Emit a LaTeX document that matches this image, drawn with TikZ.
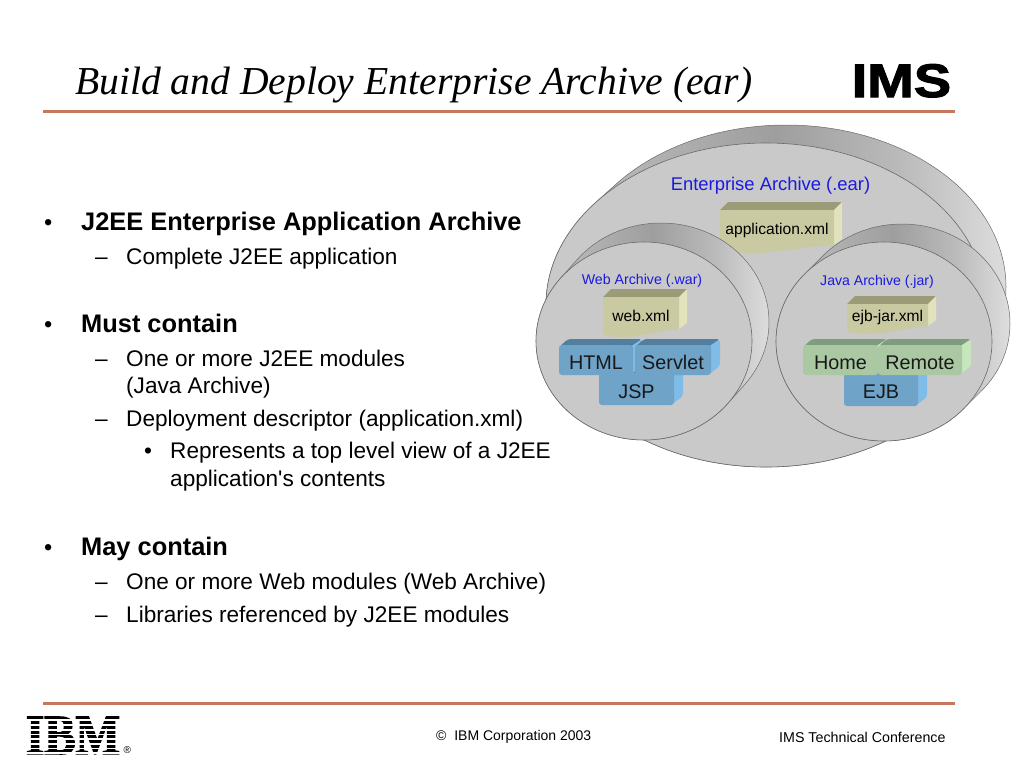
\documentclass[tikz,border=0pt]{standalone}
\usepackage{fontspec}
\setmainfont{Liberation Sans}
\newfontfamily\quotefont{Liberation Sans}
\newfontfamily\titlefont{Liberation Serif}
\newfontfamily\imsfont[UprightFont=* Bold,FakeBold=2.4,FakeStretch=1.19]{Liberation Sans}
\newfontfamily\ibmfont[UprightFont=* Bold,FakeBold=3]{Liberation Serif}
\definecolor{rulecol}{HTML}{C8785A}
\definecolor{labelblue}{HTML}{1A1AE0}
\definecolor{shellface}{HTML}{C9C9C9}
\definecolor{shelledge}{HTML}{6A6A6A}
\definecolor{docface}{HTML}{C9C9A2}
\definecolor{doctop}{HTML}{9B9B78}
\definecolor{docside}{HTML}{E2E2BC}
\definecolor{blueface}{HTML}{6FA3C8}
\definecolor{bluetop}{HTML}{527F9E}
\definecolor{blueside}{HTML}{80BCE8}
\definecolor{greenface}{HTML}{AAC8A2}
\definecolor{greentop}{HTML}{7F9C7C}
\definecolor{greenside}{HTML}{C8E6BE}
\pgfdeclarehorizontalshading{shellshade}{100bp}{
  color(0bp)=(black!22); color(25bp)=(black!22); color(50bp)=(black!38);
  color(62bp)=(black!27); color(75bp)=(black!10); color(100bp)=(black!10)}
\tikzset{
  rulebar/.style={draw=rulecol,line width=3pt},
  shellback/.style={draw=shelledge,line width=0.5pt,shading=shellshade},
  shellfront/.style={draw=shelledge,line width=0.6pt,fill=shellface},
  shelllabel/.style={text=labelblue,inner sep=0pt},
  filelabel/.style={font=\fontsize{15.6}{17}\selectfont,inner sep=0pt},
  blocklabel/.style={font=\fontsize{19.8}{22}\selectfont,text=black!90,inner sep=0pt},
  slidetext/.style={anchor=base west,inner sep=0pt},
}
% cx cy rx ry dx dy
\newcommand{\archive}[6]{
  \pgfmathsetmacro{\tang}{atan(-(#5/#6)*(#4/#3))}
  \path[shellback] ({#1+#3*cos(\tang)},{#2+#4*sin(\tang)})
    -- ++(#5,#6) arc[start angle=\tang,end angle=\tang-180,x radius=#3,y radius=#4]
    -- ++(-#5,-#6) arc[start angle=\tang-180,end angle=\tang-360,x radius=#3,y radius=#4] -- cycle;
  \path[shellfront] (#1,#2) ellipse[x radius=#3,y radius=#4];
}
% name label x0 x1 top bottom depth, bottom is the lowest point of the wave
\newcommand{\docbox}[7]{
  \fill[doctop] (#3,#5+#7) -- (#3+#7,#5) -- (#4,#5) -- (#4-#7,#5+#7) -- cycle;
  \fill[docside] (#4-#7,#5+#7) -- (#4,#5) -- (#4,#6-14) -- (#4-#7,#6-8) -- cycle;
  \fill[docface] (#3,#5+#7) -- (#4-#7,#5+#7) -- (#4-#7,#6-8)
    .. controls ({#3+0.65*(#4-#7-#3)},#6-5) and ({#3+0.45*(#4-#7-#3)},#6+1) .. ({#3+0.25*(#4-#7-#3)},#6)
    .. controls ({#3+0.15*(#4-#7-#3)},#6) and (#3+3,#6-1) .. (#3,#6-3) -- cycle;
  \node[filelabel] (#1) at ({(#3+#4-#7)/2},{(#5+#7+#6-3)/2}) {#2};
}
\begin{document}
\begin{tikzpicture}[x=1pt,y=-1pt]
\useasboundingbox (0,0) rectangle (1024,768);
\fill[white] (0,0) rectangle (1024,768);
% header and footer
\node[slidetext,font=\fontsize{39.6}{42}\selectfont\titlefont\itshape] (title) at (75,94) {Build and Deploy Enterprise Archive (ear)};
\node[slidetext,font=\fontsize{47}{49}\selectfont\imsfont] (ims) at (851.5,97) {IMS};
\draw[rulebar] (43,111) -- (955,111);
\draw[rulebar] (43,703) -- (955,703);
\node[inner sep=0pt,font=\fontsize{56}{58}\selectfont\ibmfont,xscale=0.84] (ibm) at (73,735.5) {IBM};
\foreach \k in {0,...,8} {
  \fill[white] (20,{714.7+\k*4.72}) rectangle (126,{716.4+\k*4.72});
}
\node[slidetext,font=\fontsize{10}{11}\selectfont] (regmark) at (123.5,753.5) {\textregistered};
\node[slidetext,font=\fontsize{14}{16}\selectfont] (copy) at (436,740) {\textcopyright\ \ IBM Corporation 2003};
\node[slidetext,font=\fontsize{14.25}{16}\selectfont] (conf) at (779,742) {IMS Technical Conference};
% bullets
\foreach \i/\x/\y/\txt/\fnt in {1/81/230/J2EE Enterprise Application Archive/\bfseries,4/81/332/Must contain/\bfseries,11/81/555/May contain/\bfseries} {
  \node[slidetext,font=\fontsize{25.4}{28}\selectfont\fnt] (line\i) at (\x,\y) {\txt};
  \node[slidetext,font=\fontsize{23.5}{26}\selectfont] (mark\i) at (44,\y) {•};
}
\foreach \i/\y/\txt in {2/264/Complete J2EE application,5/366/One or more J2EE modules,7/426/Deployment descriptor (application.xml),12/589/One or more Web modules (Web Archive),13/622/Libraries referenced by J2EE modules} {
  \node[slidetext,font=\fontsize{22.6}{25}\selectfont] (line\i) at (126,\y) {\txt};
  \node[slidetext,font=\fontsize{22.6}{25}\selectfont] (mark\i) at (95,\y) {–};
}
\node[slidetext,font=\fontsize{22.6}{25}\selectfont] (line6) at (126,393) {(Java Archive)};
\node[slidetext,font=\fontsize{22.6}{25}\selectfont] (mark8) at (144,458) {•};
\node[slidetext,font=\fontsize{22.6}{25}\selectfont] (line8) at (170,458) {Represents a top level view of a J2EE};
\node[slidetext,font=\fontsize{22.6}{25}\selectfont\quotefont] (line9) at (170,486) {application's contents};
% enterprise archive
\archive{766}{305}{220}{162}{20}{-18}
\node[shelllabel,font=\fontsize{18.4}{20}\selectfont] (earlabel) at (770.5,186) {Enterprise Archive (.ear)};
\docbox{appxml}{application.xml}{720}{842}{202}{253}{8}
% web archive
\archive{644}{341}{108}{99}{17}{-19}
\node[shelllabel,font=\fontsize{14.2}{16}\selectfont] (warlabel) at (642,280.5) {Web Archive (.war)};
\docbox{webxml}{web.xml}{603}{687}{289}{337}{8}
% java archive
\archive{884}{341.5}{108}{99.5}{18}{-18}
\node[shelllabel,font=\fontsize{14.1}{16}\selectfont] (jarlabel) at (877,282) {Java Archive (.jar)};
\docbox{ejbxml}{ejb-jar.xml}{847}{936}{296}{334}{8}
% modules
\foreach \nm/\lab/\xa/\xb/\ya/\yb/\col in {jsp/JSP/599/683/367/405/blue,html/HTML/559/642/339/375/blue,servlet/Servlet/635/720/339/375/blue,ejb/EJB/844/927/367/406/blue,home/Home/803/887/339/375/green,remote/Remote/878/971/339/375/green} {
  \fill[\col top,rounded corners=3pt] (\xa,\ya+8) -- (\xa+9,\ya) -- (\xb,\ya) -- (\xb-9,\ya+8) -- cycle;
  \fill[\col side,rounded corners=3pt] (\xb-12,\ya+8) -- (\xb,\ya) -- (\xb,\yb-9) -- (\xb-12,\yb) -- cycle;
  \fill[\col face,rounded corners=3pt] (\xa,\ya+6) rectangle (\xb-9,\yb);
  \node[blocklabel] (\nm) at ({(\xa+\xb-9)/2},{(\ya+8+\yb)/2+1.5}) {\lab};
}
\end{tikzpicture}
\end{document}
